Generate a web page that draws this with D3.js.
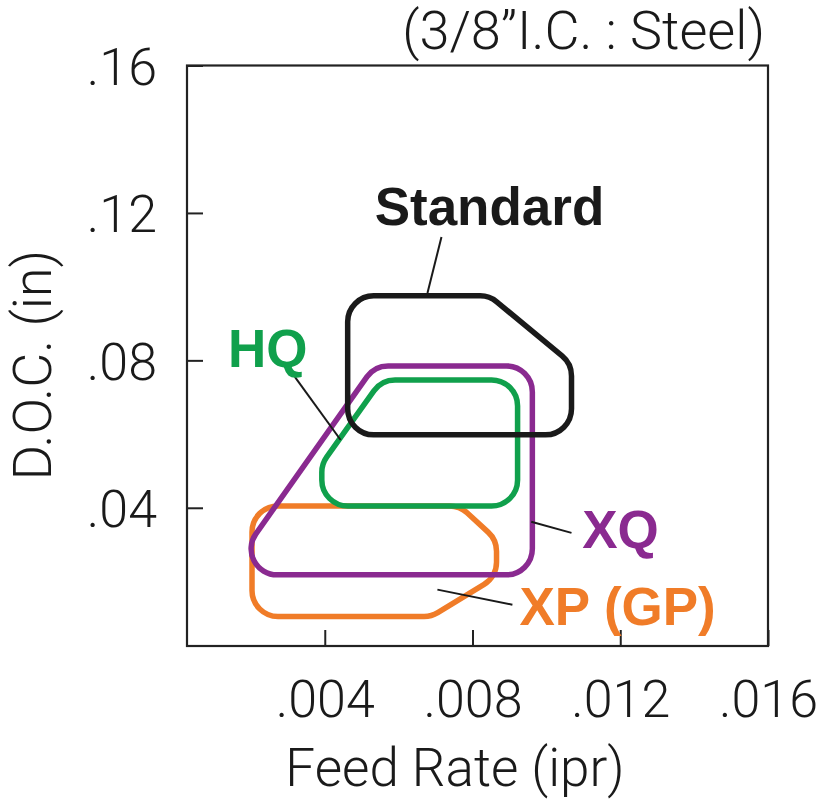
<!DOCTYPE html>
<html>
<head>
<meta charset="utf-8">
<script src="https://cdn.jsdelivr.net/npm/d3@7"></script>
<style>
  body { margin: 0; background: #fff; }
  .tick text { font-family: Roboto, "Liberation Sans", sans-serif; font-weight: 300; fill: #1a1a1a; }
  .tick line { stroke: #222; stroke-width: 2; }
</style>
</head>
<body>
<script>
// axis ticks
var xTicks = [0.004, 0.008, 0.012, 0.016];
var yTicks = [0.04, 0.08, 0.12, 0.16];

// envelope outlines, [feed rate, D.O.C.] corners
var standardPts = [[0.00462, 0.0975], [0.00846, 0.0975], [0.01068, 0.0791], [0.01068, 0.0598], [0.00462, 0.0598]];
var xqPts = [[0.00535, 0.0785], [0.00962, 0.0785], [0.00962, 0.0218], [0.00135, 0.0218]];
var hqPts = [[0.00554, 0.0747], [0.00922, 0.0747], [0.00922, 0.0405], [0.00392, 0.0405], [0.00392, 0.0519]];
var xpPts = [[0.00203, 0.0405], [0.00765, 0.0405], [0.00865, 0.0313], [0.00865, 0.0213], [0.00689, 0.0105], [0.00203, 0.0105]];

// labels: text, anchor point, leader line (from, to)
var labelNames = ["XP (GP)", "HQ", "XQ", "Standard"];
var labelAnchors = [[0.00927, 0.0083], [0.00138, 0.0782], [0.01097, 0.0292], [0.00535, 0.1167]];
var leaderLines = [
  [[0.00705, 0.0178], [0.00908, 0.0137]],
  [[0.00319, 0.0755], [0.00443, 0.0584]],
  [[0.00959, 0.0362], [0.01068, 0.0332]],
  [[0.00716, 0.1135], [0.00678, 0.0983]]
];

var shapes = [
  { pts: xpPts, color: "#f07c28", r: 26 },
  { pts: hqPts, color: "#10a04c", r: 26 },
  { pts: xqPts, color: "#8a2a90", r: 26 },
  { pts: standardPts, color: "#1a1a1a", r: 26 }
];
var labelColors = ["#f07c28", "#10a04c", "#8a2a90", "#1a1a1a"];

var W = 817, H = 800;
var plotL = 187, plotR = 768, plotT = 65.5, plotB = 646;

var svg = d3.select("body").append("svg")
    .attr("width", W)
    .attr("height", H);

var x = d3.scaleLinear().domain([0.00027, 0.016]).range([plotL, plotR]);
var y = d3.scaleLinear().domain([0.0025, 0.16]).range([plotB, plotT]);

// rounded polygon through d3.path arcTo
function roundedPath(pts, r) {
  var p = d3.path();
  var px = pts.map(function(d) { return [x(d[0]), y(d[1])]; });
  var n = px.length;
  var a = px[n - 1], b = px[0];
  p.moveTo((a[0] + b[0]) / 2, (a[1] + b[1]) / 2);
  for (var i = 0; i < n; i++) {
    var c = px[i], nx = px[(i + 1) % n];
    p.arcTo(c[0], c[1], nx[0], nx[1], r);
  }
  p.closePath();
  return p.toString();
}

var fmtX = function(d) { return d3.format(".3f")(d).replace(/^0/, ""); };
var fmtY = function(d) { return d3.format(".2f")(d).replace(/^0/, ""); };

// axes, ticks pointing inward
var gx = svg.append("g")
    .attr("transform", "translate(0," + plotB + ")")
    .call(d3.axisBottom(x).tickValues(xTicks).tickSize(-16).tickPadding(34).tickFormat(fmtX));
gx.select(".domain").remove();
gx.selectAll("text").attr("font-size", 52);

var gy = svg.append("g")
    .attr("transform", "translate(" + plotL + ",0)")
    .call(d3.axisLeft(y).tickValues(yTicks).tickSize(-16).tickPadding(30).tickFormat(fmtY));
gy.select(".domain").remove();
gy.selectAll("text").attr("font-size", 52).attr("dy", "0.36em");

// frame
svg.append("rect")
    .attr("x", plotL).attr("y", plotT)
    .attr("width", plotR - plotL).attr("height", plotB - plotT)
    .attr("fill", "none").attr("stroke", "#222").attr("stroke-width", 2.2);

// envelopes
svg.selectAll("path.env").data(shapes).enter().append("path")
    .attr("class", "env")
    .attr("d", function(d) { return roundedPath(d.pts, d.r); })
    .attr("fill", "none")
    .attr("stroke", function(d) { return d.color; })
    .attr("stroke-width", 5.5)
    .attr("stroke-linejoin", "round");

// leader lines
svg.selectAll("line.leader").data(leaderLines).enter().append("line")
    .attr("class", "leader")
    .attr("x1", function(d) { return x(d[0][0]); })
    .attr("y1", function(d) { return y(d[0][1]); })
    .attr("x2", function(d) { return x(d[1][0]); })
    .attr("y2", function(d) { return y(d[1][1]); })
    .attr("stroke", "#1a1a1a")
    .attr("stroke-width", 2);

// series labels
svg.selectAll("text.lbl").data(labelNames).enter().append("text")
    .attr("class", "lbl")
    .attr("x", function(d, i) { return x(labelAnchors[i][0]); })
    .attr("y", function(d, i) { return y(labelAnchors[i][1]); })
    .attr("fill", function(d, i) { return labelColors[i]; })
    .attr("font-family", "'Liberation Sans', Arial, sans-serif")
    .attr("font-weight", "bold")
    .attr("font-size", 53)
    .text(function(d) { return d; });

// titles
svg.append("text")
    .attr("x", 765).attr("y", 49)
    .attr("text-anchor", "end")
    .attr("font-family", "Roboto, 'Liberation Sans', sans-serif")
    .attr("font-weight", 300)
    .attr("font-size", 54)
    .attr("fill", "#1a1a1a")
    .text("(3/8\u201dI.C. : Steel)");

svg.append("text")
    .attr("x", 455).attr("y", 786)
    .attr("text-anchor", "middle")
    .attr("font-family", "Roboto, 'Liberation Sans', sans-serif")
    .attr("font-weight", 300)
    .attr("font-size", 53)
    .attr("fill", "#1a1a1a")
    .text("Feed Rate (ipr)");

svg.append("text")
    .attr("transform", "translate(51,365) rotate(-90)")
    .attr("text-anchor", "middle")
    .attr("font-family", "Roboto, 'Liberation Sans', sans-serif")
    .attr("font-weight", 300)
    .attr("font-size", 54)
    .attr("fill", "#1a1a1a")
    .text("D.O.C. (in)");
</script>
</body>
</html>
